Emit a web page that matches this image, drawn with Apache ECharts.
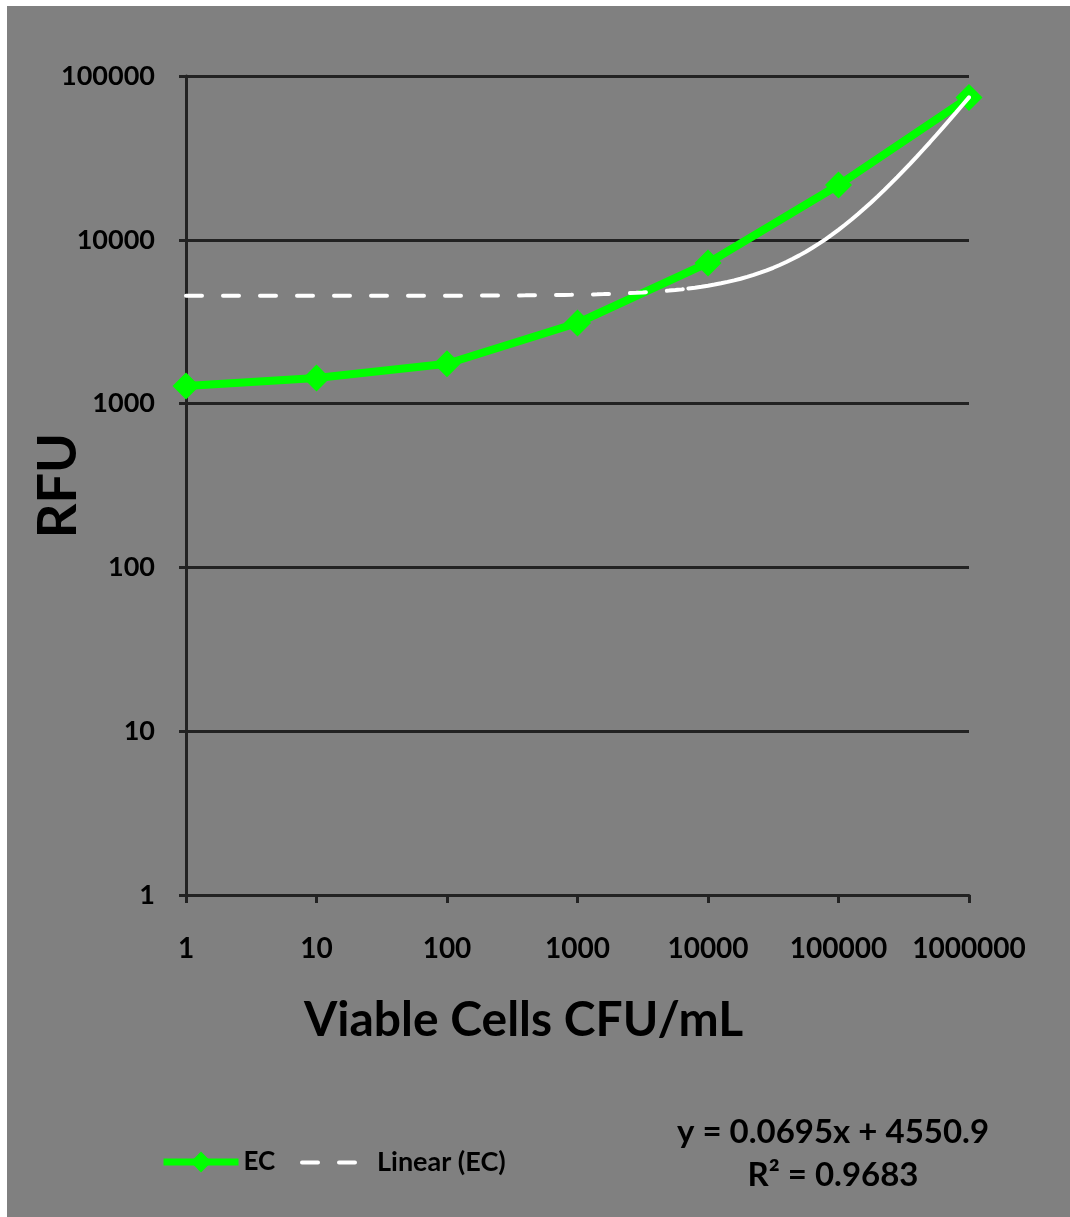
<!DOCTYPE html>
<html>
<head>
<meta charset="utf-8">
<script src="https://cdn.jsdelivr.net/npm/echarts@6/dist/echarts.min.js"></script>
<style>
  html, body { margin: 0; padding: 0; background: #ffffff; }
  #chart { position: absolute; left: 7px; top: 6px; width: 1063px; height: 1211px; }
</style>
</head>
<body>
<div id="chart"></div>
<script>
// Measured signal (RFU) against viable cell concentration (CFU/mL)
const cfu = [1, 10, 100, 1000, 10000, 100000, 1000000];
const rfu = [1280, 1433, 1750, 3105, 7220, 21600, 74000];

// Linear least-squares trendline through the EC series
const fitSlope = 0.0695;
const fitIntercept = 4550.9;
const fitR2 = 0.9683;

// Trendline sampled along the log x axis; the dash pattern stops near x = 8000
const trendDashed = [];
const trendSolid = [];
for (let k = 0; k <= 120; k++) {
  const x = Math.pow(10, k / 20);
  const pt = [x, fitSlope * x + fitIntercept];
  if (k <= 77) trendDashed.push(pt);
  if (k >= 77) trendSolid.push(pt);
}

const FONT = 'Lato';
const INK = '#000000';
const RULE = '#222222';
const GREEN = '#00ff00';
const DASH = [16, 21];

const chart = echarts.init(document.getElementById('chart'), null, { renderer: 'canvas' });

const tickFmt = v => String(Math.round(v));

chart.setOption({
  backgroundColor: '#808080',
  animation: false,
  grid: { left: 179, right: 101, top: 70, bottom: 322, containLabel: false, outerBoundsMode: 'none' },
  xAxis: {
    type: 'log', logBase: 10, min: 1, max: 1000000, splitNumber: 6,
    name: 'Viable Cells CFU/mL', nameLocation: 'middle', nameGap: 102, nameMoveOverlap: false,
    nameTextStyle: { fontFamily: FONT, fontWeight: 'bold', fontSize: 48, color: INK, padding: [0, 108, 0, 0] },
    axisLine: { show: true, lineStyle: { color: RULE, width: 3 } },
    axisTick: { show: true, length: 8, lineStyle: { color: RULE, width: 3 } },
    minorTick: { show: false },
    splitLine: { show: false },
    axisLabel: { formatter: tickFmt, fontFamily: FONT, fontWeight: 'bold', fontSize: 28, color: INK, margin: 40 }
  },
  yAxis: {
    type: 'log', logBase: 10, min: 1, max: 100000, splitNumber: 5,
    name: 'RFU', nameLocation: 'middle', nameGap: 100, nameRotate: 90, nameMoveOverlap: false,
    nameTextStyle: { fontFamily: FONT, fontWeight: 'bold', fontSize: 54, color: INK },
    axisLine: { show: true, lineStyle: { color: RULE, width: 3 } },
    axisTick: { show: true, length: 7, lineStyle: { color: RULE, width: 3 } },
    minorTick: { show: false },
    splitLine: { show: true, lineStyle: { color: RULE, width: 3 } },
    axisLabel: { formatter: tickFmt, fontFamily: FONT, fontWeight: 'bold', fontSize: 27, color: INK, margin: 31 }
  },
  legend: [
    {
      data: ['EC'], left: 148, top: 1138, itemWidth: 75, itemHeight: 26, itemGap: 0,
      lineStyle: { width: 7, color: GREEN },
      itemStyle: { color: GREEN },
      textStyle: { fontFamily: FONT, fontWeight: 'bold', fontSize: 26, color: INK }
    },
    {
      data: ['Linear (EC)'], left: 288, top: 1138, itemWidth: 57, itemHeight: 26, itemGap: 0,
      lineStyle: { width: 4, color: '#ffffff', type: DASH, cap: 'round' },
      itemStyle: { color: 'rgba(255,255,255,0)', borderWidth: 0 },
      textStyle: { fontFamily: FONT, fontWeight: 'bold', fontSize: 27, color: INK, padding: [0, 0, 0, 13] }
    }
  ],
  series: [
    {
      name: 'EC', type: 'line', z: 2,
      data: cfu.map((x, i) => [x, rfu[i]]),
      symbol: 'diamond', symbolSize: 27,
      itemStyle: { color: GREEN },
      lineStyle: { color: GREEN, width: 8 }
    },
    {
      name: 'Linear (EC)', type: 'line', z: 3, smooth: false,
      data: trendDashed, showSymbol: false, symbol: 'none',
      itemStyle: { color: '#ffffff' },
      lineStyle: { color: '#ffffff', width: 4, type: DASH, cap: 'round' }
    },
    {
      name: 'Linear (EC)', type: 'line', z: 3, smooth: false,
      data: trendSolid, showSymbol: false, symbol: 'none',
      itemStyle: { color: '#ffffff' },
      lineStyle: { color: '#ffffff', width: 4, cap: 'round' }
    }
  ],
  graphic: [
    {
      type: 'text', x: 826, y: 1126,
      style: {
        text: `y = ${fitSlope}x + ${fitIntercept}`,
        fontFamily: FONT, fontWeight: 'bold', fontSize: 33, fill: INK,
        align: 'center', verticalAlign: 'middle'
      }
    },
    {
      type: 'text', x: 826, y: 1169,
      style: {
        text: `R² = ${fitR2}`,
        fontFamily: FONT, fontWeight: 'bold', fontSize: 33, fill: INK,
        align: 'center', verticalAlign: 'middle'
      }
    }
  ]
});
</script>
</body>
</html>
